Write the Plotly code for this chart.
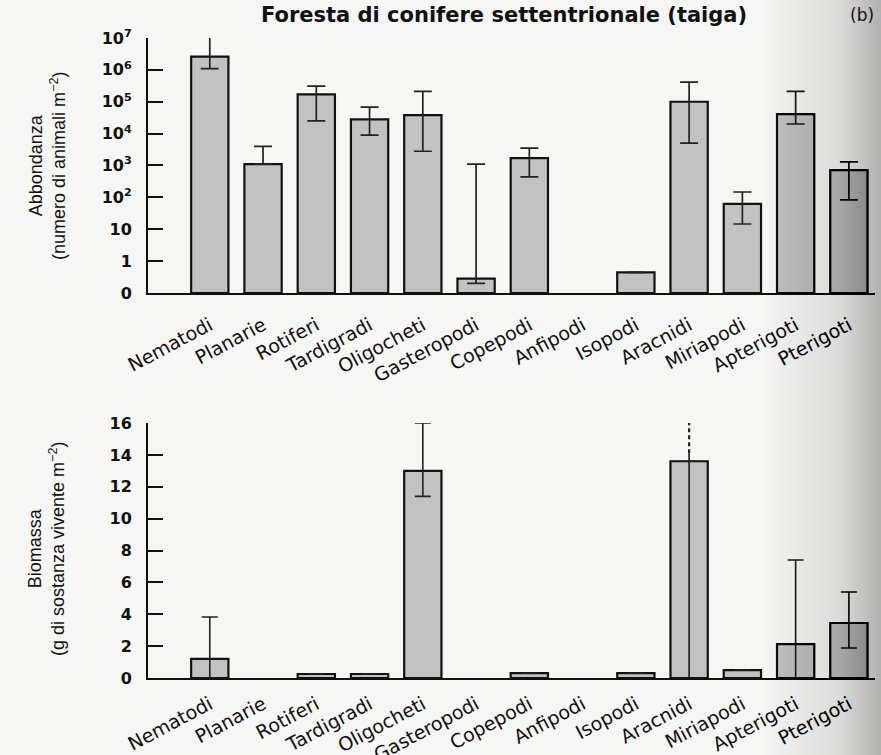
import plotly.graph_objects as go
from plotly.subplots import make_subplots

categories = ["Nematodi", "Planarie", "Rotiferi", "Tardigradi", "Oligocheti", "Gasteropodi",
              "Copepodi", "Anfipodi", "Isopodi", "Aracnidi", "Miriapodi", "Apterigoti", "Pterigoti"]

# Abbondanza (numero di animali m^-2), log scale; 0.1 is drawn as "0"
abund = [2.6e6, 1100, 1.7e5, 2.8e4, 3.8e4, 0.18, 1700, None, 0.34, 1.0e5, 62, 4.1e4, 720]
abund_hi = [1.1e7, 4000, 3.1e5, 6.8e4, 2.1e5, 1100, 3500, None, None, 4.1e5, 147, 2.1e5, 1300]
abund_lo = [1.1e6, 1100, 2.5e4, 9000, 2800, 0.1, 440, None, None, 5000, 14.5, 2.0e4, 83]

# Biomassa (g di sostanza vivente m^-2)
biom = [1.2, None, 0.25, 0.25, 13.0, None, 0.3, None, 0.3, 13.6, 0.5, 2.13, 3.45]
biom_hi = [3.83, None, None, None, 16.0, None, None, None, None, None, None, 7.4, 5.4]
biom_lo = [0.0, None, None, None, 11.4, None, None, None, None, None, None, 0.0, 1.88]
arac_solid = [0.0, 14.1]
arac_dashed = [14.1, 16.1]

ytick_vals = [0.1, 1, 10, 100, 1e3, 1e4, 1e5, 1e6, 1e7]
ytick_text = ["0", "1", "10", "10<sup>2</sup>", "10<sup>3</sup>", "10<sup>4</sup>",
              "10<sup>5</sup>", "10<sup>6</sup>", "10<sup>7</sup>"]
btick_vals = [0, 2, 4, 6, 8, 10, 12, 14, 16]

def plus(v, hi):
    return [None if (a is None or h is None) else h - a for a, h in zip(v, hi)]

def minus(v, lo):
    return [None if (a is None or l is None) else a - l for a, l in zip(v, lo)]

SANS = "Liberation Sans, Arial, Helvetica, sans-serif"
WIDE = "DejaVu Sans, Verdana, sans-serif"
BAR = "#c2c2c2"
INK = "#111111"

fig = make_subplots(rows=2, cols=1, vertical_spacing=0.2, shared_xaxes=False)

fig.add_trace(go.Bar(
    x=categories, y=abund, width=0.7,
    marker=dict(color=BAR, line=dict(color=INK, width=2.2)),
    error_y=dict(type="data", symmetric=False, array=plus(abund, abund_hi),
                 arrayminus=minus(abund, abund_lo), color="#222", thickness=1.7, width=9),
    base=0.1, showlegend=False), row=1, col=1)

fig.add_trace(go.Bar(
    x=categories, y=biom, width=0.7,
    marker=dict(color=BAR, line=dict(color=INK, width=2.2)),
    error_y=dict(type="data", symmetric=False, array=plus(biom, biom_hi),
                 arrayminus=minus(biom, biom_lo), color="#222", thickness=1.6, width=8),
    showlegend=False), row=2, col=1)

fig.add_trace(go.Scatter(x=["Aracnidi", "Aracnidi"], y=arac_solid, mode="lines",
                         line=dict(color="#222", width=1.7), showlegend=False), row=2, col=1)
fig.add_trace(go.Scatter(x=["Aracnidi", "Aracnidi"], y=arac_dashed, mode="lines",
                         line=dict(color="#222", width=2.2, dash="4px,3px"), showlegend=False),
              row=2, col=1)

xcommon = dict(categoryorder="array", categoryarray=categories, range=[-1.16, 12.49],
               showline=True, linecolor=INK, linewidth=2, ticks="", tickangle=-28,
               automargin=False,
               tickfont=dict(family=WIDE, size=19, color=INK), showgrid=False, zeroline=False)
fig.update_xaxes(**xcommon, ticklabelstandoff=12, row=1, col=1)
fig.update_xaxes(**xcommon, ticklabelstandoff=6, row=2, col=1)

ycommon = dict(showline=True, linecolor=INK, linewidth=2, ticks="inside", ticklen=15,
               tickwidth=1.7, tickcolor=INK, ticklabelstandoff=11, automargin=False,
               tickfont=dict(family=WIDE, size=16, color=INK, weight="bold"),
               showgrid=False, zeroline=False)
fig.update_yaxes(type="log", range=[-1, 7], tickvals=ytick_vals, ticktext=ytick_text,
                 **ycommon, row=1, col=1)
fig.update_yaxes(range=[0, 16], tickvals=btick_vals, **ycommon, row=2, col=1)

# soft darkening toward the right edge of the scanned page (over everything, like the scan)
shade = [dict(type="rect", xref="paper", yref="paper", layer="above",
              x0=(x0 - 148) / 727, x1=(881 - 148) / 727, y0=-0.2, y1=1.1,
              fillcolor="rgba(60,60,60,0.004)", line=dict(width=0))
         for x0 in range(760, 881, 3)]
shade += [dict(type="rect", xref="paper", yref="paper", layer="above",
               x0=(x0 - 148) / 727, x1=(881 - 148) / 727, y0=-0.2, y1=1.1,
               fillcolor="rgba(60,60,60,0.006)", line=dict(width=0))
          for x0 in range(840, 881, 3)]

fig.update_layout(
    width=881, height=755,
    margin=dict(l=148, r=6, t=38, b=77),
    paper_bgcolor="#f6f6f4", plot_bgcolor="rgba(0,0,0,0)",
    yaxis=dict(domain=[0.6016, 1.0]),
    yaxis2=dict(domain=[0.0, 0.3984]),
    shapes=shade,
    annotations=[
        dict(text="<b>Foresta di conifere settentrionale (taiga)</b>", xref="paper", yref="paper",
             x=(504 - 148) / 727, y=1 + (38 - 15) / 640, xanchor="center", yanchor="middle",
             showarrow=False, font=dict(family=WIDE, size=21, color=INK)),
        dict(text="(b)", xref="paper", yref="paper", x=(862 - 148) / 727,
             y=1 + (38 - 15) / 640, xanchor="center", yanchor="middle",
             showarrow=False, font=dict(family=WIDE, size=17, color=INK)),
        dict(text="Abbondanza<br>(numero di animali m<sup>−2</sup>)", xref="paper", yref="paper",
             x=-(148 - 48) / 727, y=(678 - 166) / 640, xanchor="center", yanchor="middle",
             textangle=-90, showarrow=False, font=dict(family=SANS, size=18, color=INK)),
        dict(text="Biomassa<br>(g di sostanza vivente m<sup>−2</sup>)", xref="paper", yref="paper",
             x=-(148 - 46) / 727, y=(678 - 549) / 640, xanchor="center", yanchor="middle",
             textangle=-90, showarrow=False, font=dict(family=SANS, size=18, color=INK)),
    ],
)

fig.write_html("out.html", post_script="document.body.style.margin='0';",
               config={"displayModeBar": False})
